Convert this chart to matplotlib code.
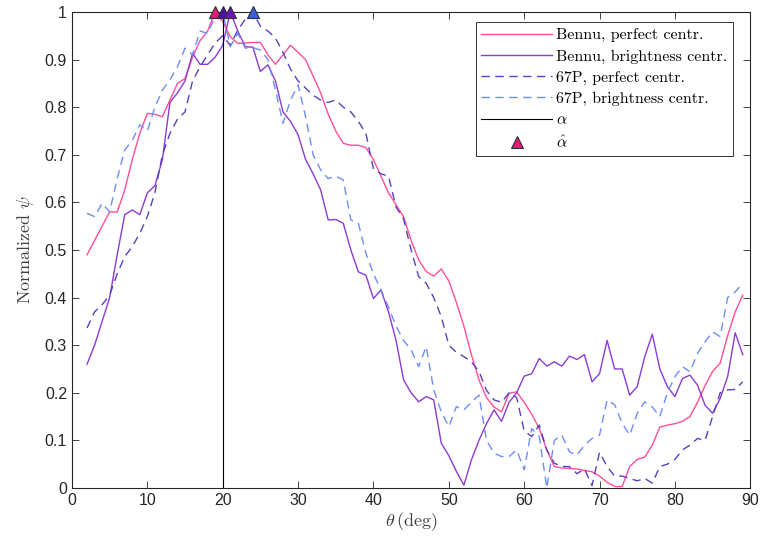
import numpy as np
import matplotlib
matplotlib.use("Agg")
import matplotlib.pyplot as plt

theta = np.arange(2, 90)

bennu_perfect = [
    0.49, 0.52, 0.55, 0.58, 0.58, 0.626, 0.69, 0.745, 0.787, 0.785,
    0.78, 0.815, 0.85, 0.86, 0.905, 0.94, 0.96, 1.0, 0.98, 0.948,
    0.934, 0.935, 0.936, 0.936, 0.91, 0.89, 0.91, 0.93, 0.915, 0.90,
    0.865, 0.83, 0.785, 0.75, 0.724, 0.72, 0.72, 0.715, 0.69, 0.655,
    0.62, 0.595, 0.57, 0.52, 0.479, 0.455, 0.445, 0.46, 0.435, 0.39,
    0.34, 0.28, 0.227, 0.19, 0.17, 0.16, 0.199, 0.202, 0.18, 0.155,
    0.125, 0.08, 0.045, 0.042, 0.041, 0.04, 0.037, 0.034, 0.025, 0.012,
    0.003, 0.003, 0.045, 0.06, 0.065, 0.09, 0.128, 0.132, 0.135, 0.14,
    0.15, 0.18, 0.215, 0.245, 0.262, 0.32, 0.37, 0.405,
]
bennu_bright = [
    0.26, 0.30, 0.35, 0.40, 0.49, 0.574, 0.584, 0.574, 0.62, 0.635,
    0.69, 0.81, 0.83, 0.855, 0.913, 0.89, 0.89, 0.905, 0.93, 1.0,
    0.96, 0.927, 0.926, 0.875, 0.889, 0.855, 0.79, 0.77, 0.742, 0.69,
    0.66, 0.626, 0.563, 0.564, 0.556, 0.50, 0.454, 0.447, 0.398, 0.416,
    0.37, 0.31, 0.227, 0.20, 0.181, 0.192, 0.185, 0.094, 0.068, 0.035,
    0.006, 0.059, 0.10, 0.135, 0.164, 0.14, 0.18, 0.20, 0.235, 0.24,
    0.272, 0.256, 0.265, 0.256, 0.277, 0.27, 0.28, 0.223, 0.24, 0.31,
    0.25, 0.25, 0.195, 0.213, 0.276, 0.323, 0.25, 0.213, 0.192, 0.23,
    0.237, 0.216, 0.174, 0.157, 0.188, 0.234, 0.326, 0.28,
]
p67_perfect = [
    0.336, 0.37, 0.385, 0.405, 0.45, 0.486, 0.507, 0.535, 0.57, 0.62,
    0.70, 0.745, 0.775, 0.79, 0.855, 0.885, 0.91, 0.935, 0.95, 0.93,
    0.962, 0.985, 1.0, 0.97, 0.96, 0.945, 0.915, 0.88, 0.855, 0.84,
    0.825, 0.815, 0.81, 0.815, 0.80, 0.79, 0.77, 0.745, 0.67, 0.66,
    0.655, 0.59, 0.565, 0.50, 0.444, 0.43, 0.40, 0.36, 0.30, 0.285,
    0.276, 0.265, 0.245, 0.205, 0.185, 0.18, 0.20, 0.19, 0.12, 0.108,
    0.132, 0.08, 0.052, 0.045, 0.045, 0.03, 0.04, 0.005, 0.075, 0.045,
    0.025, 0.025, 0.02, 0.015, 0.02, 0.01, 0.045, 0.05, 0.06, 0.08,
    0.09, 0.104, 0.10, 0.15, 0.20, 0.206, 0.207, 0.223,
]
p67_bright = [
    0.577, 0.57, 0.598, 0.58, 0.65, 0.71, 0.73, 0.763, 0.75, 0.80,
    0.836, 0.857, 0.885, 0.924, 0.91, 0.96, 0.955, 0.99, 1.0, 0.927,
    0.955, 0.924, 0.925, 0.92, 0.90, 0.836, 0.766, 0.815, 0.847, 0.78,
    0.70, 0.668, 0.65, 0.655, 0.647, 0.563, 0.556, 0.493, 0.45, 0.416,
    0.38, 0.34, 0.31, 0.29, 0.255, 0.297, 0.206, 0.16, 0.129, 0.171,
    0.164, 0.18, 0.195, 0.10, 0.073, 0.066, 0.066, 0.08, 0.038, 0.125,
    0.108, 0.0, 0.10, 0.111, 0.076, 0.069, 0.09, 0.104, 0.111, 0.185,
    0.175, 0.136, 0.111, 0.157, 0.181, 0.17, 0.15, 0.20, 0.234, 0.255,
    0.244, 0.283, 0.307, 0.328, 0.318, 0.40, 0.412, 0.43,
]

alpha = 20
alpha_hat = [19, 20, 21, 24]
alpha_hat_colors = ["#e8197a", "#4a12a8", "#6c14bc", "#3b5ee0"]

plt.rcParams["mathtext.fontset"] = "cm"
plt.rcParams["font.family"] = ["Liberation Sans", "DejaVu Sans"]
serif = {"family": "cmr10", "size": 11.5}

fig = plt.figure(figsize=(7.6, 5.44), dpi=100)
ax = fig.add_axes([0.0947, 0.103, 0.8925, 0.875])

ax.plot(theta, bennu_perfect, color="#ff4f98", lw=1.0, label="Bennu, perfect centr.")
ax.plot(theta, bennu_bright, color="#8b3bd2", lw=1.0, label="Bennu, brightness centr.")
ax.plot(theta, p67_perfect, color="#5a3fc0", lw=1.0, dashes=(6, 4),
        label="67P, perfect centr.")
ax.plot(theta, p67_bright, color="#6e8df8", lw=1.0, dashes=(6, 4),
        label="67P, brightness centr.")
ax.axvline(alpha, color="black", lw=0.8, label=r"$\alpha$")

for i, (x, c) in enumerate(zip(alpha_hat, alpha_hat_colors)):
    ax.plot([x], [1.0], marker="^", ms=9, color=c, mec="#303030", mew=0.8,
            ls="none", clip_on=False, zorder=5,
            label=r"$\hat{\alpha}$" if i == 0 else None)

ax.set_xlim(0, 90)
ax.set_ylim(0, 1)
ax.set_xticks(np.arange(0, 91, 10))
ax.set_yticks(np.arange(0, 1.01, 0.1))
ax.set_yticklabels(["0", "0.1", "0.2", "0.3", "0.4", "0.5", "0.6", "0.7", "0.8", "0.9", "1"])
ax.tick_params(direction="in", top=True, right=True, length=5, width=0.6,
               labelsize=11.5, colors="#262626")
for s in ax.spines.values():
    s.set_color("#262626")
    s.set_linewidth(0.8)

ax.set_xlabel(r"$\theta\,(\mathrm{deg})$", fontsize=13, color="#404040", labelpad=2)
ax.set_ylabel(r"$\mathrm{Normalized}\ \psi$", fontsize=13, color="#404040", labelpad=6)

leg = ax.legend(loc="upper right", bbox_to_anchor=(0.975, 0.978), prop=serif,
                frameon=True, fancybox=False, edgecolor="black",
                handlelength=4.4, handletextpad=0.3, borderpad=0.35,
                labelspacing=0.44, borderaxespad=0)
leg.get_frame().set_linewidth(0.7)

fig.savefig("out.png", dpi=100)
